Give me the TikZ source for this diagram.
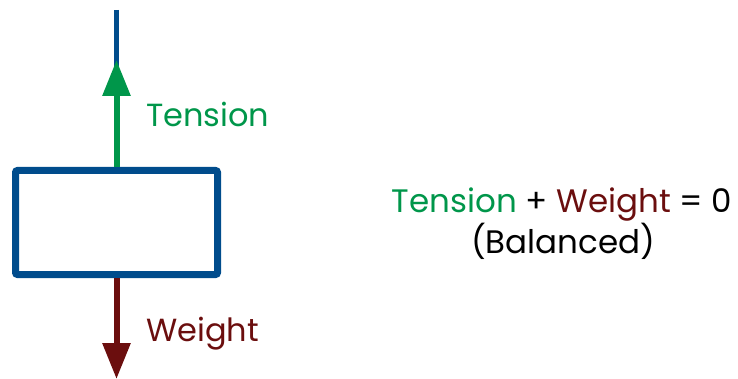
\documentclass[tikz,border=0pt]{standalone}
\usepackage{fontspec}
\setmainfont{Poppins}
\usetikzlibrary{arrows.meta}
\definecolor{boxblue}{HTML}{004C8C}
\definecolor{tensiongreen}{HTML}{00964A}
\definecolor{weightred}{HTML}{6B0E0E}
\begin{document}
\begin{tikzpicture}[x=1pt,y=-1pt,
  body/.style={draw=boxblue,line width=7pt,rounded corners=2pt,fill=white,
    minimum width=202pt,minimum height=104pt,inner sep=0pt},
  rope/.style={draw=boxblue,line width=5.5pt},
  force/.style={line width=6pt,-{Triangle[length=36pt,width=27pt]}},
  lbl/.style={font=\fontsize{32}{36}\selectfont,inner sep=0pt,anchor=base west},
  eq/.style={font=\fontsize{32.5}{44}\selectfont,inner sep=0pt,align=center}]
\useasboundingbox (0,0) rectangle (738,379);
\coordinate (ropetop) at (116.5,10);
\coordinate (tensiontip) at (116.5,60);
\coordinate (weighttip) at (116.5,379);
\draw[rope] (ropetop) -- (116.5,170.5);
\node[body] (box) at (116.5,222.5) {};
\draw[force,tensiongreen] (box.north) -- (tensiontip);
\draw[force,weightred] (box.south) -- (weighttip);
\node[lbl,text=tensiongreen] (tension) at (146,127) {Tension};
\node[lbl,text=weightred] (weight) at (146,341) {Weight};
\node[eq,anchor=base] (sum) at (562,213) {\textcolor{tensiongreen}{Tension} + \textcolor{weightred}{Weight} = 0};
\node[eq,anchor=base] (balanced) at (563,254) {(Balanced)};
\end{tikzpicture}
\end{document}
